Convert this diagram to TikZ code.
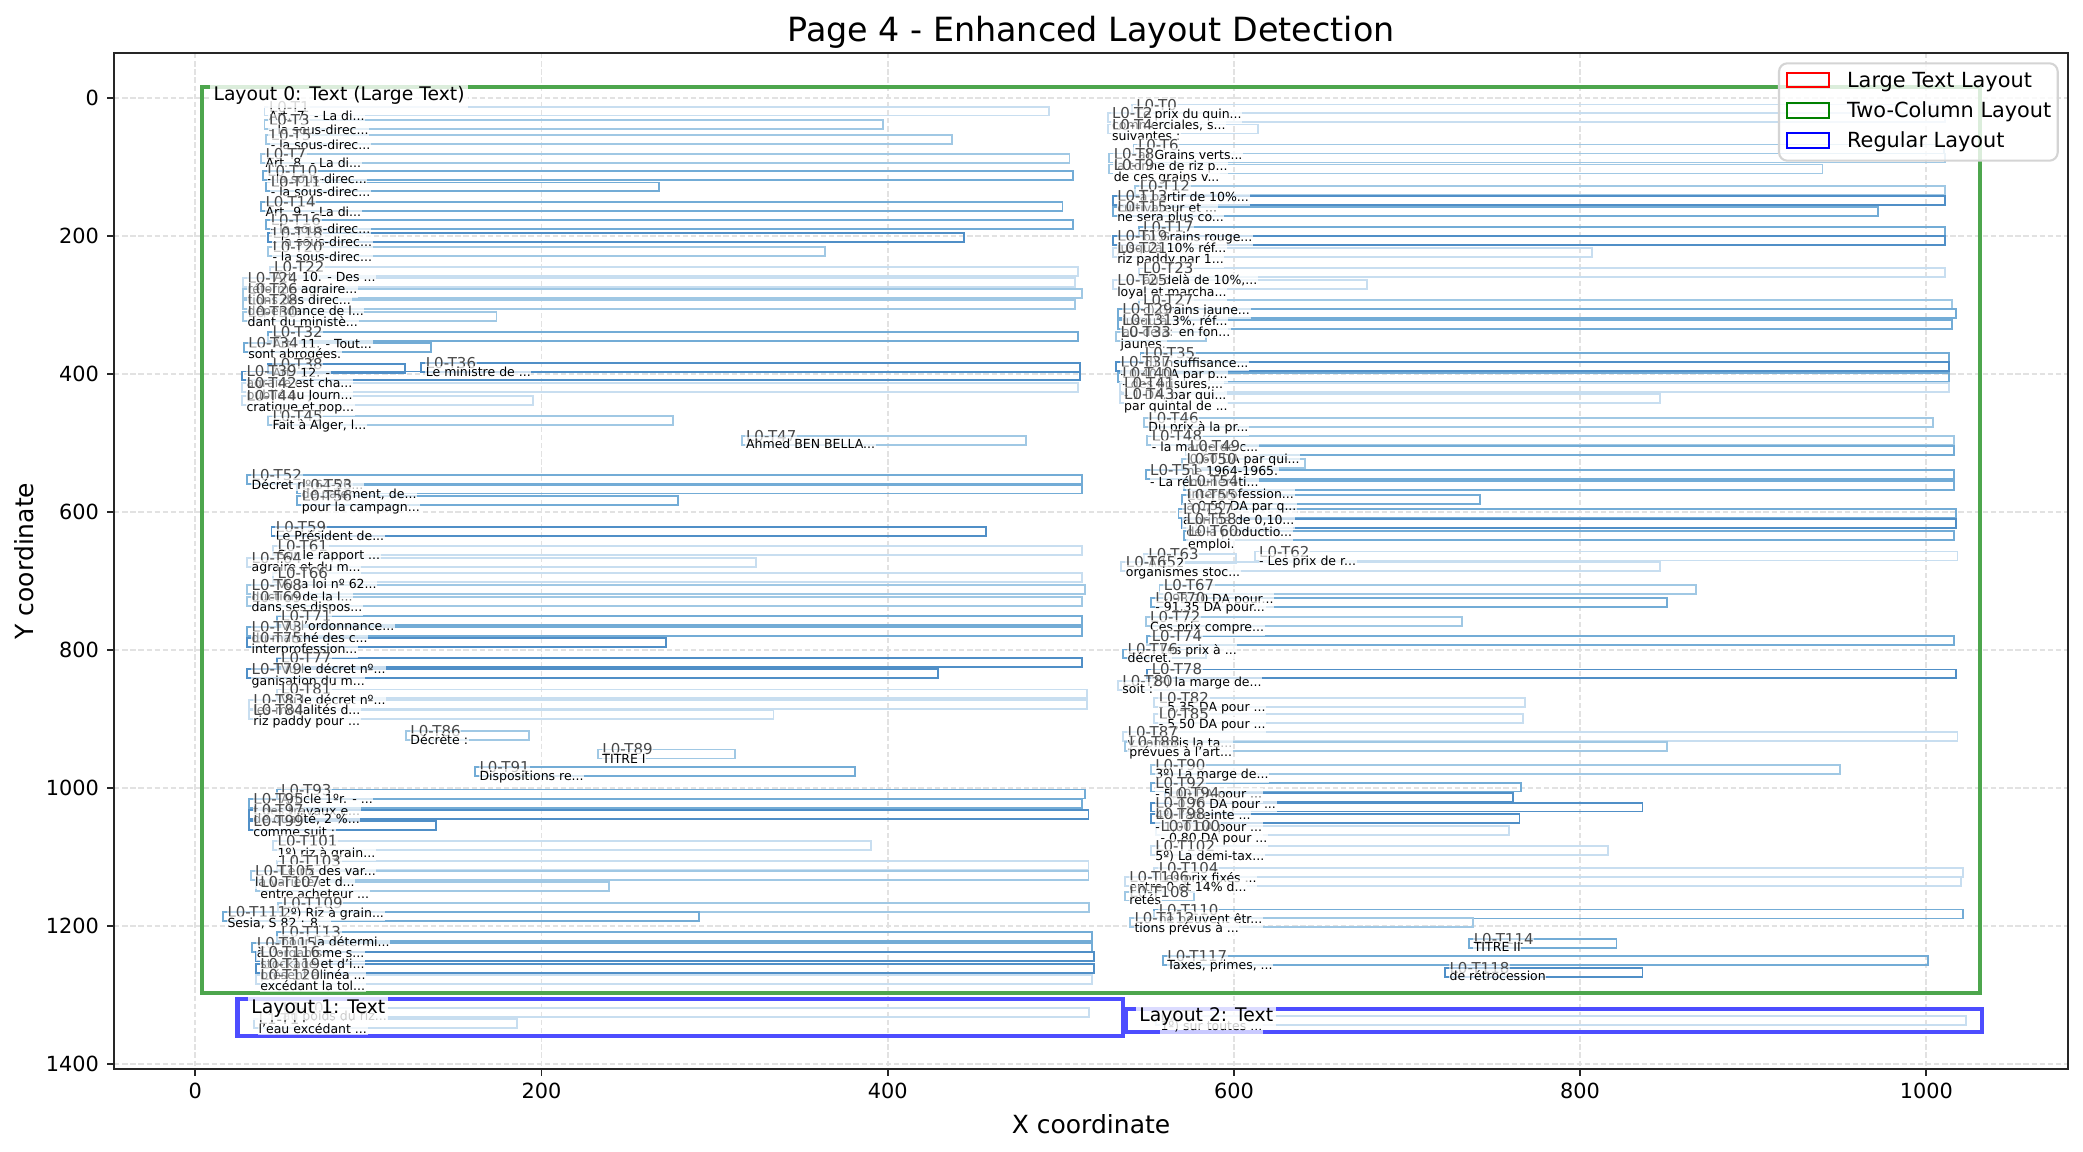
\documentclass[tikz,border=0pt]{standalone}
\usepackage{fontspec}
\setmainfont{DejaVu Sans}
\pgfdeclarelayer{bg}
\pgfdeclarelayer{lay}
\pgfdeclarelayer{boxes}
\pgfdeclarelayer{grid}
\pgfsetlayers{bg,grid,lay,boxes,main}
\definecolor{cA}{RGB}{200,222,240}
\definecolor{cB}{RGB}{160,200,228}
\definecolor{cC}{RGB}{115,172,214}
\definecolor{cD}{RGB}{80,143,199}
\definecolor{laygreen}{RGB}{77,166,77}
\definecolor{layblue}{RGB}{77,77,255}
\definecolor{gridc}{RGB}{226,226,226}
\tikzset{
  bline/.style={line width=0.9pt},
  lbl/.style={anchor=base west, font=\fontsize{7.2}{8}\selectfont, text=black!72, fill=white, fill opacity=0.55, text opacity=1, inner xsep=0.3pt, inner ysep=0.6pt},
  snp/.style={anchor=base west, font=\fontsize{6}{7}\selectfont, text=black, fill=white, fill opacity=0.7, text opacity=1, inner xsep=0.3pt, inner ysep=0.8pt},
  gridl/.style={gridc, line width=0.8pt, dash pattern=on 2.6pt off 1.3pt},
  spine/.style={black!85, line width=0.8pt},
  ticklab/.style={font=\fontsize{10}{12}\selectfont, inner sep=0pt},
  laylab/.style={anchor=base west, font=\fontsize{9}{11}\selectfont, fill=white, fill opacity=0.8, text opacity=1, inner sep=1.5pt},
  lay0/.style={laygreen, line width=2pt},
  layb/.style={layblue, line width=2pt},
  legtext/.style={anchor=base west, font=\fontsize{10}{12}\selectfont, inner sep=0pt},
}
% x0, x1, label baseline Y, snippet baseline Y, colour, label, snippet
\newcommand{\elbox}[7]{%
  \begin{pgfonlayer}{boxes}\draw[#5,bline] (#1,#3-8) rectangle (#2,#3+5);\end{pgfonlayer}
  \node[lbl] (#6) at (#1+2,#3) {#6};
  \node[snp] (#6s) at (#1+2,#4) {#7};
}
\begin{document}
\begin{tikzpicture}[x=0.48pt,y=-0.48pt]
\useasboundingbox (0,0) rectangle (2083,1152);
\begin{pgfonlayer}{bg}
\fill[white] (0,0) rectangle (2083,1152);
\end{pgfonlayer}
% grid
\begin{pgfonlayer}{grid}
\foreach \gx in {195.3,541.5,887.7,1233.9,1580.1,1926.3} \draw[gridl] (\gx,53) -- (\gx,1069);
\foreach \gy in {98.3,236.3,374.2,512.2,650.1,788.1,926.1,1064.0} \draw[gridl] (114,\gy) -- (2068,\gy);
\end{pgfonlayer}
% axes frame and ticks
\draw[spine] (114,53) rectangle (2068,1069);
\foreach \gx/\t in {195.3/0,541.5/200,887.7/400,1233.9/600,1580.1/800,1926.3/1000} {
  \draw[spine] (\gx,1069) -- (\gx,1076.3);
  \node[ticklab, anchor=north] (xt\t) at (\gx,1083) {\t};
}
\foreach \gy/\t in {98.3/0,236.3/200,374.2/400,512.2/600,650.1/800,788.1/1000,926.1/1200,1064.0/1400} {
  \draw[spine] (114,\gy) -- (106.7,\gy);
  \node[ticklab, anchor=east] (yt\t) at (99.4,\gy) {\t};
}
\node[anchor=base, font=\fontsize{16}{19}\selectfont, inner sep=0pt] (title) at (1091,41) {Page 4 - Enhanced Layout Detection};
\node[anchor=base, font=\fontsize{12}{14}\selectfont, inner sep=0pt] (xlab) at (1091,1133) {X coordinate};
\node[anchor=base, rotate=90, font=\fontsize{12}{14}\selectfont, inner sep=0pt] (ylab) at (33,561) {Y coordinate};

\begin{scope}[shift={(93.744pt,-47.184pt)}, x=0.83088pt, y=-0.33110pt]
\begin{pgfonlayer}{lay}
\draw[lay0] (3.8,-16.8) rectangle (1031,1297.5);
\draw[layb] (24.4,1306) rectangle (536,1359.5);
\draw[layb] (537.5,1320) rectangle (1032,1354);
\end{pgfonlayer}
\elbox{541}{1010}{17}{29}{cA}{L0-T0}{Le prix du quin...}
\elbox{40}{493}{20}{32.4}{cA}{L0-T1}{Art. 7. - La di...}
\elbox{527}{1011}{29}{45}{cA}{L0-T2}{commerciales, s...}
\elbox{40}{397.5}{40}{53}{cB}{L0-T3}{- la sous-direc...}
\elbox{527}{614}{46}{60.5}{cA}{L0-T4}{suivantes :}
\elbox{41}{437}{61}{73.5}{cB}{L0-T5}{- la sous-direc...}
\elbox{542}{1010}{75}{88}{cB}{L0-T6}{a) Grains verts...}
\elbox{38}{505}{89}{100.6}{cB}{L0-T7}{Art. 8. - La di...}
\elbox{528}{1011}{88}{104}{cB}{L0-T8}{la tonne de riz p...}
\elbox{528}{940}{104}{120}{cB}{L0-T9}{de ces grains v...}
\elbox{39}{507}{113}{124}{cC}{L0-T10}{- la sous-direc...}
\elbox{41}{268}{130}{142.6}{cC}{L0-T11}{- la sous-direc...}
\elbox{543}{1011}{135}{150}{cB}{L0-T12}{à partir de 10\%...}
\elbox{530}{1011}{150}{166}{cD}{L0-T13}{cultivateur et ...}
\elbox{38}{501}{158}{171.6}{cC}{L0-T14}{Art. 9. - La di...}
\elbox{530}{972}{166}{179}{cC}{L0-T15}{ne sera plus co...}
\elbox{41}{507}{184}{195.7}{cC}{L0-T16}{- la sous-direc...}
\elbox{545}{1011}{195}{208}{cC}{L0-T17}{b) Grains rouge...}
\elbox{42}{444}{203}{215}{cD}{L0-T18}{- la sous-direc...}
\elbox{530}{1011}{208}{223}{cD}{L0-T19}{jusqu'à 10\% réf...}
\elbox{42}{364}{224}{236}{cB}{L0-T20}{- la sous-direc...}
\elbox{530}{807}{225}{240}{cA}{L0-T21}{riz paddy par 1...}
\elbox{43}{510}{252}{266}{cA}{L0-T22}{Art. 10. - Des ...}
\elbox{545}{1011}{254}{270}{cA}{L0-T23}{au-delà de 10\%,...}
\elbox{27.6}{508}{269}{283}{cA}{L0-T24}{réforme agraire...}
\elbox{530}{677}{272}{287}{cA}{L0-T25}{loyal et marcha...}
\elbox{27.6}{512}{285}{298.6}{cB}{L0-T26}{tions des direc...}
\elbox{545}{1015}{300}{314}{cB}{L0-T27}{c) Grains jaune...}
\elbox{27.6}{508}{301}{315}{cB}{L0-T28}{dépendance de l...}
\elbox{533}{1017}{314}{329}{cC}{L0-T29}{jusqu'à 3\%, réf...}
\elbox{27.6}{174}{318}{331}{cB}{L0-T30}{dant du ministè...}
\elbox{533}{1015}{329}{345}{cC}{L0-T31}{au-delà: en fon...}
\elbox{42}{510}{347}{362}{cC}{L0-T32}{Art. 11. - Tout...}
\elbox{532}{584}{347}{362}{cB}{L0-T33}{jaunes.}
\elbox{28}{136}{363}{377}{cC}{L0-T34}{sont abrogées.}
\elbox{546}{1013}{377}{390}{cC}{L0-T35}{d) Insuffisance...}
\elbox{130.6}{511}{392}{403.6}{cD}{L0-T36}{Le ministre de ...}
\elbox{532}{1013}{390}{406}{cD}{L0-T37}{- 0,40 DA par p...}
\elbox{42}{121}{393}{404.6}{cD}{L0-T38}{Art. 12. -}
\elbox{27}{511}{404}{419}{cD}{L0-T39}{agraire est cha...}
\elbox{533}{1013}{406}{421}{cC}{L0-T40}{- des brisures,...}
\elbox{534}{1013}{421}{437}{cA}{L0-T41}{- 1 DA, par qui...}
\elbox{27}{510}{421}{437}{cA}{L0-T42}{publié au Journ...}
\elbox{534}{846}{437}{452}{cA}{L0-T43}{par quintal de ...}
\elbox{27}{195}{439}{454}{cA}{L0-T44}{cratique et pop...}
\elbox{42}{276}{468}{480}{cB}{L0-T45}{Fait à Alger, l...}
\elbox{548}{1004}{471}{483}{cB}{L0-T46}{Du prix à la pr...}
\elbox{315.6}{480}{497}{507.5}{cB}{L0-T47}{Ahmed BEN BELLA...}
\elbox{550}{1016}{498}{512}{cB}{L0-T48}{- la marge de c...}
\elbox{572}{1016}{512}{529}{cC}{L0-T49}{0,60 DA par qui...}
\elbox{570}{641}{531}{547}{cB}{L0-T50}{ne 1964-1965.}
\elbox{549}{1016}{547}{563}{cC}{L0-T51}{- La rémunérati...}
\elbox{30}{512}{554}{567}{cC}{L0-T52}{Décret nº 64-20...}
\elbox{59}{512}{568}{580}{cC}{L0-T53}{de paiement, de...}
\elbox{571}{1016}{563}{580}{cC}{L0-T54}{interprofession...}
\elbox{570}{742}{583}{597}{cC}{L0-T55}{à 0,50 DA par q...}
\elbox{59}{279}{585}{599}{cC}{L0-T56}{pour la campagn...}
\elbox{568}{1017}{604}{618.5}{cC}{L0-T57}{a prime de 0,10...}
\elbox{570}{1017}{618.5}{635.5}{cD}{L0-T58}{de la productio...}
\elbox{44}{457}{629}{641}{cD}{L0-T59}{Le Président de...}
\elbox{571}{1016}{635.5}{652}{cC}{L0-T60}{emploi.}
\elbox{45}{512}{657}{669}{cA}{L0-T61}{Sur le rapport ...}
\elbox{612}{1018}{665}{677}{cA}{L0-T62}{- Les prix de r...}
\elbox{548}{601}{669}{680}{cA}{L0-T63}{Art. 2}
\elbox{30}{324}{674}{686}{cA}{L0-T64}{agraire et du m...}
\elbox{535}{846}{680}{693}{cA}{L0-T65}{organismes stoc...}
\elbox{45}{512}{696}{711}{cA}{L0-T66}{Vu la loi nº 62...}
\elbox{557}{867}{713}{732}{cB}{L0-T67}{- 93,70 DA pour...}
\elbox{30}{514}{713}{729}{cB}{L0-T68}{duction de la l...}
\elbox{30}{512}{731}{744}{cB}{L0-T69}{dans ses dispos...}
\elbox{552}{850}{732}{744}{cC}{L0-T70}{- 91,35 DA pour...}
\elbox{47}{512}{759}{772}{cC}{L0-T71}{Vu l'ordonnance...}
\elbox{549}{732}{760}{773}{cB}{L0-T72}{Ces prix compre...}
\elbox{30}{512}{774}{789}{cC}{L0-T73}{du marché des c...}
\elbox{550}{1016}{788}{807}{cC}{L0-T74}{- Les prix à ...}
\elbox{30}{272}{791}{805}{cD}{L0-T75}{interprofession...}
\elbox{536}{584}{807}{818}{cC}{L0-T76}{décret.}
\elbox{47}{512}{820}{833.7}{cD}{L0-T77}{Vu le décret nº...}
\elbox{550}{1017}{836}{853}{cD}{L0-T78}{2º) la marge de...}
\elbox{30}{429}{835}{850.6}{cD}{L0-T79}{ganisation du m...}
\elbox{533}{579}{853}{863}{cA}{L0-T80}{soit :}
\elbox{47}{515}{865}{878.6}{cA}{L0-T81}{Vu le décret nº...}
\elbox{554}{768}{877}{889}{cA}{L0-T82}{- 5,35 DA pour ...}
\elbox{31}{515}{880}{893}{cA}{L0-T83}{les modalités d...}
\elbox{31}{334}{895}{909.6}{cA}{L0-T84}{riz paddy pour ...}
\elbox{554}{767}{900}{914}{cA}{L0-T85}{- 5,50 DA pour ...}
\elbox{121.7}{193}{925}{937.5}{cB}{L0-T86}{Décrète :}
\elbox{536}{1018}{927}{941.5}{cA}{L0-T87}{y compris la ta...}
\elbox{537}{850}{941.5}{954.6}{cB}{L0-T88}{prévues à l'art...}
\elbox{232.6}{312}{952}{964}{cB}{L0-T89}{TITRE I}
\elbox{552}{950}{974}{986}{cB}{L0-T90}{3º) La marge de...}
\elbox{161.6}{381}{978}{989}{cC}{L0-T91}{Dispositions re...}
\elbox{552}{766}{1000}{1015}{cC}{L0-T92}{- 5,00 DA pour ...}
\elbox{47}{514}{1010}{1023}{cC}{L0-T93}{Article 1ºr. - ...}
\elbox{560}{761}{1015}{1029}{cD}{L0-T94}{- 0,70 DA pour ...}
\elbox{31}{512}{1024}{1039}{cC}{L0-T95}{t des travaux e...}
\elbox{552}{836}{1029}{1045}{cD}{L0-T96}{4º) l'atteinte ...}
\elbox{31}{516}{1040}{1052}{cD}{L0-T97}{de qualité, 2 \%...}
\elbox{552}{765}{1045}{1063}{cD}{L0-T98}{- 1,00 DA pour ...}
\elbox{31}{139}{1056}{1070.5}{cD}{L0-T99}{comme suit :}
\elbox{555}{759}{1063}{1079}{cA}{L0-T100}{- 0,80 DA pour ...}
\elbox{45}{390.5}{1085}{1100}{cA}{L0-T101}{1º) riz à grain...}
\elbox{552}{816}{1092}{1105}{cA}{L0-T102}{5º) La demi-tax...}
\elbox{47}{516}{1114}{1126}{cA}{L0-T103}{Le riz des var...}
\elbox{554}{1021}{1124}{1137}{cA}{L0-T104}{Les prix fixés ...}
\elbox{32}{516}{1128}{1143}{cB}{L0-T105}{la variété et d...}
\elbox{537}{1020}{1137}{1150}{cA}{L0-T106}{entre 0 et 14\% d...}
\elbox{35}{239}{1144}{1160}{cB}{L0-T107}{entre acheteur ...}
\elbox{537}{577}{1158}{1169}{cB}{L0-T108}{retés}
\elbox{48}{516.5}{1174}{1187}{cB}{L0-T109}{2º) Riz à grain...}
\elbox{554}{1021}{1184}{1196}{cC}{L0-T110}{ne peuvent êtr...}
\elbox{16}{291}{1188}{1202}{cC}{L0-T111}{Sesia, S 82 : 8...}
\elbox{540}{738}{1196}{1210}{cB}{L0-T112}{tions prévus à ...}
\elbox{47}{518}{1217}{1229}{cC}{L0-T113}{pour la détermi...}
\elbox{736}{821}{1227}{1237}{cC}{L0-T114}{TITRE II}
\elbox{33}{518}{1232}{1245}{cC}{L0-T115}{à l'organisme s...}
\elbox{35}{519}{1246}{1261}{cD}{L0-T116}{stockage et d'i...}
\elbox{559}{1001}{1252}{1263}{cC}{L0-T117}{Taxes, primes, ...}
\elbox{35}{519}{1263}{1277}{cD}{L0-T119}{présent alinéa ...}
\elbox{722}{836}{1269}{1279}{cD}{L0-T118}{de rétrocession}
\elbox{35}{518}{1279}{1293.6}{cA}{L0-T120}{excédant la tol...}
\elbox{48}{516.5}{1327}{1337.6}{cA}{L1-T0}{au poids du riz...}
\elbox{34}{186}{1343}{1355.5}{cA}{L1-T1}{l'eau excédant ...}
\elbox{555}{1023}{1339}{1352}{cA}{L2-T0}{1º) sur toutes ...}
\node[laylab] (lay0lab) at (8.5,3.9) {Layout 0: Text (Large Text)};
\node[laylab] (lay1lab) at (30.4,1326.5) {Layout 1: Text};
\node[laylab] (lay2lab) at (543.3,1338.6) {Layout 2: Text};
\end{scope}
% legend
\draw[draw=black!17, line width=1pt, fill=white, fill opacity=0.8, rounded corners=4pt] (1779,63.3) rectangle (2057.7,160.7);
\draw[red, line width=0.9pt] (1787.3,72.7) rectangle (1829,86.7);
\draw[green!50!black, line width=0.9pt] (1787.3,103.3) rectangle (1829,117.7);
\draw[blue, line width=0.9pt] (1787.3,133.3) rectangle (1829,147.7);
\node[legtext] (leg1) at (1846.7,87) {Large Text Layout};
\node[legtext] (leg2) at (1846.7,117.8) {Two-Column Layout};
\node[legtext] (leg3) at (1846.7,147.8) {Regular Layout};
\end{tikzpicture}
\end{document}
